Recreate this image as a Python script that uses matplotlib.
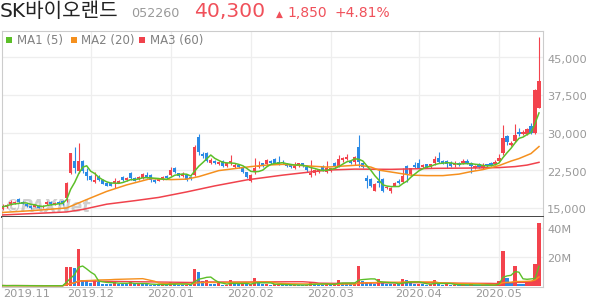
import numpy as np
import pandas as pd
import matplotlib
matplotlib.use('Agg')
import matplotlib.pyplot as plt
from matplotlib import transforms
from matplotlib.patches import Rectangle

# daily candles, 2019-10-31 .. 2020-05-19 (won)
opens = [14800, 15150, 15800, 15900, 16700, 16200, 15750, 15350, 15200, 15350,
         15050, 15750, 16200, 15600, 16050, 16350, 17000, 21850, 24300, 22400,
         24400, 22200, 21300, 20050, 21050, 20550, 20000, 19850, 19850, 20000,
         21050, 20550, 21850, 20850, 20650, 20850, 21500, 21500, 20550, 20400,
         20650, 21300, 21500, 22850, 21850, 21400, 21500, 21200, 21500, 29050,
         25700, 25950, 23850, 24400, 23700, 24400, 23400, 23850, 23050, 23500,
         23000, 22050, 20350, 22050, 23050, 23850, 23650, 24400, 24650, 24200,
         24200, 23850, 23500, 22850, 23400, 23850, 23050, 21500, 21850, 22200,
         23200, 22200, 22400, 23850, 23400, 24500, 24700, 24300, 24200, 27150,
         23850, 20850, 20650, 18400, 20400, 20750, 18850, 18400, 19400, 20400,
         20200, 23300, 21650, 23500, 23850, 23050, 23650, 23200, 23850, 24950,
         24300, 24300, 23850, 23500, 23950, 23850, 24300, 23950, 23000, 23700,
         22850, 23650, 23950, 23650, 24300, 25850, 29300, 27500, 28300, 30150,
         29650, 29650, 31300, 29850, 34950]
highs = [15750, 15750, 16550, 16250, 16950, 16350, 15950, 15550, 15750, 15550,
         15450, 16350, 16350, 16150, 16250, 16550, 20100, 26000, 27150, 27950,
         24500, 22850, 21450, 22100, 21500, 20650, 20150, 20050, 20850, 20550,
         21350, 21050, 22200, 21050, 21250, 21900, 22050, 21700, 20650, 20850,
         21250, 21500, 23050, 23200, 22000, 22200, 21700, 21300, 27500, 29700,
         26050, 26150, 24850, 24500, 24300, 24500, 24000, 25500, 24000, 23700,
         23100, 22200, 21700, 24850, 24400, 24000, 24700, 24500, 24950, 25300,
         24500, 24000, 23700, 24050, 24000, 24000, 23200, 24500, 22650, 22800,
         23500, 24400, 23000, 24050, 25500, 25150, 25650, 24500, 25300, 29500,
         24000, 21500, 20850, 19950, 22650, 20950, 19350, 19200, 20050, 20650,
         22850, 23500, 23000, 24200, 24650, 23700, 23800, 23800, 25300, 26100,
         24500, 24500, 24300, 24400, 24100, 24650, 24650, 24200, 23500, 23900,
         23850, 23800, 24100, 24500, 25650, 31500, 29500, 28300, 31700, 30850,
         30500, 30850, 31850, 38700, 49000]
lows = [14550, 15000, 15550, 15750, 16000, 15650, 15150, 14750, 15050, 14850,
        14950, 15550, 15550, 15450, 15550, 15550, 16200, 21700, 22000, 22000,
        22000, 20550, 20350, 20000, 20350, 19650, 19250, 19250, 18850, 19850,
        20350, 20350, 20550, 20250, 20550, 20750, 20950, 20200, 19950, 20250,
        20550, 20750, 21300, 22000, 21200, 21200, 20350, 20550, 21300, 25500,
        24950, 24200, 23700, 23700, 23500, 23200, 23200, 23500, 22900, 22900,
        21900, 21000, 20150, 21700, 22900, 23200, 23500, 23700, 23800, 23500,
        23700, 23200, 23000, 22700, 23200, 23200, 22200, 21200, 21500, 22000,
        22300, 22000, 22200, 22850, 23200, 24200, 24500, 23700, 23500, 23200,
        22850, 18850, 19200, 18250, 19200, 18050, 18750, 18000, 19250, 19750,
        19850, 20200, 21400, 22900, 22650, 22900, 23000, 23000, 23500, 23850,
        23700, 22850, 23200, 23200, 23400, 23700, 23700, 22000, 22800, 23000,
        22700, 23200, 23300, 23500, 24200, 25500, 27500, 27300, 28150, 29300,
        29450, 29450, 29700, 29700, 34850]
closes = [15200, 15500, 16200, 16150, 16200, 15800, 15350, 14950, 15600, 15000,
          15350, 16150, 15750, 16000, 15650, 15750, 20000, 25950, 22850, 24300,
          22300, 21400, 20550, 20550, 20550, 19750, 19400, 19400, 20350, 20400,
          20550, 20850, 20850, 20350, 21050, 21700, 21050, 20550, 20050, 20750,
          21050, 20850, 22500, 22200, 21400, 21700, 20550, 20750, 27200, 26150,
          25300, 24400, 24500, 23850, 24100, 23400, 23850, 24400, 23500, 23050,
          22050, 21200, 21500, 23000, 23400, 23400, 24500, 23850, 24000, 23700,
          23850, 23400, 23200, 23400, 23850, 23400, 22500, 21850, 22500, 22650,
          22500, 22850, 22850, 23200, 24650, 24950, 25150, 23850, 25150, 24200,
          23200, 20350, 19400, 19750, 19850, 18400, 19200, 18850, 19850, 19850,
          21400, 21500, 22850, 23050, 23000, 23500, 23200, 23650, 24650, 24050,
          23850, 23700, 23400, 23850, 23600, 24300, 23850, 23300, 23300, 23200,
          23500, 23400, 23500, 24200, 24950, 28950, 28150, 27950, 29500, 29650,
          30150, 30700, 29950, 38450, 40300]
# volume, millions of shares
volumes = [0.5, 0.4, 0.6, 0.4, 0.5, 0.4, 0.3, 0.4, 0.3, 0.3,
           0.3, 0.5, 0.4, 0.3, 0.3, 0.4, 13.5, 13.6, 12.8, 25.7,
           4.3, 3.6, 2.5, 4.3, 3.2, 1.8, 1.7, 1.6, 3.9, 1.7,
           1.6, 1.5, 3.2, 1.7, 1.8, 1.5, 1.4, 1.2, 1.1, 1.0,
           1.1, 1.0, 3.0, 1.5, 1.2, 1.0, 1.1, 0.9, 11.8, 9.8,
           3.9, 4.6, 1.8, 1.5, 2.0, 1.0, 1.2, 4.3, 1.6, 1.3,
           1.5, 1.4, 1.6, 5.7, 2.0, 1.3, 1.5, 1.2, 1.3, 1.4,
           1.0, 0.9, 0.8, 1.0, 0.9, 0.8, 1.0, 2.7, 1.8, 1.2,
           1.0, 1.6, 1.4, 1.8, 4.3, 2.2, 1.8, 1.3, 2.0, 14.2,
           4.0, 3.0, 2.4, 1.8, 5.3, 2.2, 1.6, 1.5, 1.6, 1.4,
           4.8, 4.3, 2.3, 1.8, 1.9, 1.5, 1.2, 1.3, 4.3, 1.6,
           1.2, 1.4, 1.0, 1.1, 0.9, 1.0, 0.9, 1.3, 0.8, 0.7,
           0.9, 0.6, 0.8, 1.0, 3.9, 24.6, 5.5, 2.8, 14.0, 1.8,
           1.7, 3.9, 4.0, 15.4, 43.9]

# longer moving averages (they include history before the window)
ma20_idx = [0, 8, 16, 19, 22, 26, 31, 37, 42, 46, 49, 54, 58, 62, 66, 70, 75, 81,
            85, 89, 92, 94, 98, 102, 106, 110, 114, 117, 120, 124, 127, 129, 132, 134]
ma20_val = [14050, 14450, 14950, 15950, 16950, 18250, 19550, 20800, 20600, 20700,
            21200, 22400, 22800, 23200, 23500, 23650, 23400, 23100, 23300, 23500,
            23100, 22500, 22000, 21500, 21400, 21400, 21700, 22200, 22600, 23400,
            24300, 24800, 25800, 27200]
ma60_idx = [0, 8, 16, 20, 26, 33, 39, 46, 53, 61, 70, 81, 88, 97, 108, 116, 124,
            128, 131, 134]
ma60_val = [13550, 13850, 14150, 14650, 15700, 16400, 17050, 18150, 19350, 20550,
            21500, 22500, 22700, 22650, 22850, 22900, 23000, 23200, 23500, 24050]

month_idx = [22, 42, 62, 82, 104, 124]
month_labels = ['2019.12', '2020.01', '2020.02', '2020.03', '2020.04', '2020.05']
price_ticks = [15000, 22500, 30000, 37500, 45000]
vol_ticks = [20, 40]

RED = '#f3434d'
BLUE = '#2a8ae6'
GREEN = '#5cbf28'
ORANGE = '#f5901e'
MARED = '#f0424c'
GRID = '#eeeeee'
FRAME = '#cccccc'
LABEL = '#999999'
UPTXT = '#f0505a'

W, H = 594, 304
fig = plt.figure(figsize=(W / 100, H / 100), dpi=100)


def px_axes(l, t, r, b):
    return fig.add_axes([l / W, 1 - b / H, (r - l) / W, (b - t) / H])


def fx(x):
    return x / W


def fy(y):
    return 1 - y / H


ax = px_axes(1.7, 30.7, 543, 217.3)
axv = px_axes(1.7, 217.3, 543, 287.3)

x = np.arange(len(closes))
o = np.array(opens)
c = np.array(closes)
hi = np.array(highs)
lo = np.array(lows)
cols = np.where(c >= o, RED, BLUE)

for a in (ax, axv):
    a.set_xlim(-0.23, 135.0)
    a.set_xticks([])
    a.set_yticks([])
    for m in month_idx:
        a.axvline(m, color=GRID, lw=0.9, zorder=0)
    for s in a.spines.values():
        s.set_color(FRAME)
        s.set_linewidth(0.8)

ax.set_ylim(13085, 50307)
axv.set_ylim(-0.69, 47.6)
ax.spines['bottom'].set_color('#444444')
ax.spines['bottom'].set_linewidth(1.4)
axv.spines['top'].set_visible(False)

for t in price_ticks:
    ax.axhline(t, color=GRID, lw=0.9, zorder=0)
for t in vol_ticks:
    axv.axhline(t, color=GRID, lw=0.9, zorder=0)

# candles
ax.vlines(x, lo, hi, colors=cols, lw=0.8, zorder=2)
body_lo = np.minimum(o, c)
body_h = np.maximum(np.abs(c - o), 200)
ax.bar(x, body_h, bottom=body_lo, width=0.78, color=cols, linewidth=0,
       antialiased=False, zorder=3)

ma5 = pd.Series(closes).rolling(5, min_periods=1).mean()
ax.plot(ma60_idx, ma60_val, color=MARED, lw=1.1, zorder=4)
ax.plot(ma20_idx, ma20_val, color=ORANGE, lw=1.1, zorder=4)
ax.plot(x, ma5, color=GREEN, lw=1.1, zorder=5)

# volume
v = np.array(volumes)
vcols = [RED] + [RED if v[i] >= v[i - 1] else BLUE for i in range(1, len(v))]
axv.bar(x, v, width=0.78, color=vcols, linewidth=0, antialiased=False, zorder=2)
vs = pd.Series(volumes)
axv.plot(x, vs.rolling(60, min_periods=1).mean(), color=MARED, lw=1.0, zorder=3)
axv.plot(x, vs.rolling(20, min_periods=1).mean(), color=ORANGE, lw=1.0, zorder=3)
axv.plot(x, vs.rolling(5, min_periods=1).mean(), color=GREEN, lw=1.0, zorder=4)

# right-hand labels
tr = transforms.offset_copy(ax.get_yaxis_transform(), fig=fig, x=4, y=-2.5, units='dots')
for t in price_ticks:
    ax.text(1.0, t, f'{t:,}', transform=tr, ha='left', va='center',
            fontsize=8.2, color=LABEL)
trv = transforms.offset_copy(axv.get_yaxis_transform(), fig=fig, x=4, y=-2, units='dots')
for t in vol_ticks:
    axv.text(1.0, t, f'{t}M', transform=trv, ha='left', va='center',
             fontsize=8.2, color=LABEL)

# month labels
yl = -(294 - 287.3) / 70
for m, lab in zip(month_idx, month_labels):
    axv.text(m, yl, lab, transform=axv.get_xaxis_transform(), ha='center',
             va='center', fontsize=8.2, color=LABEL)
axv.text(0.0024, yl, '2019.11', transform=axv.transAxes, ha='left',
         va='center', fontsize=8.2, color=LABEL)

# watermark
ax.text(fx(5), fy(212), '©PAXNet', transform=fig.transFigure, fontsize=12,
        fontweight='bold', style='italic', color='#a0a0a0', alpha=0.5, zorder=1)

# legend
for xs, col, lab in [(6, GREEN, 'MA1 (5)'), (70.7, ORANGE, 'MA2 (20)'),
                     (139.3, MARED, 'MA3 (60)')]:
    fig.add_artist(Rectangle((fx(xs), fy(42.7)), 6 / W, 6 / H, color=col,
                             transform=fig.transFigure, lw=0))
    fig.text(fx(xs + 10.7), fy(44.3), lab, fontsize=8.5, color='#808080',
             va='baseline', ha='left')

# header
base = fy(17)
fig.text(fx(0), base, 'SK바이오랜드', fontsize=14.5,
         family=['DejaVu Sans', 'Noto Sans CJK KR'], color='#222222', va='baseline')
fig.text(fx(131), base, '052260', fontsize=9.2, color='#999999', va='baseline')
fig.text(fx(194), base, '40,300', fontsize=14.6, color=UPTXT, va='baseline')
fig.text(fx(275.5), base + 0.002, '▲', fontsize=6.5, color=UPTXT, va='baseline')
fig.text(fx(287), base, '1,850', fontsize=10, color=UPTXT, va='baseline')
fig.text(fx(335), base, '+4.81%', fontsize=10, color=UPTXT, va='baseline')

fig.savefig('out.png', dpi=100)
